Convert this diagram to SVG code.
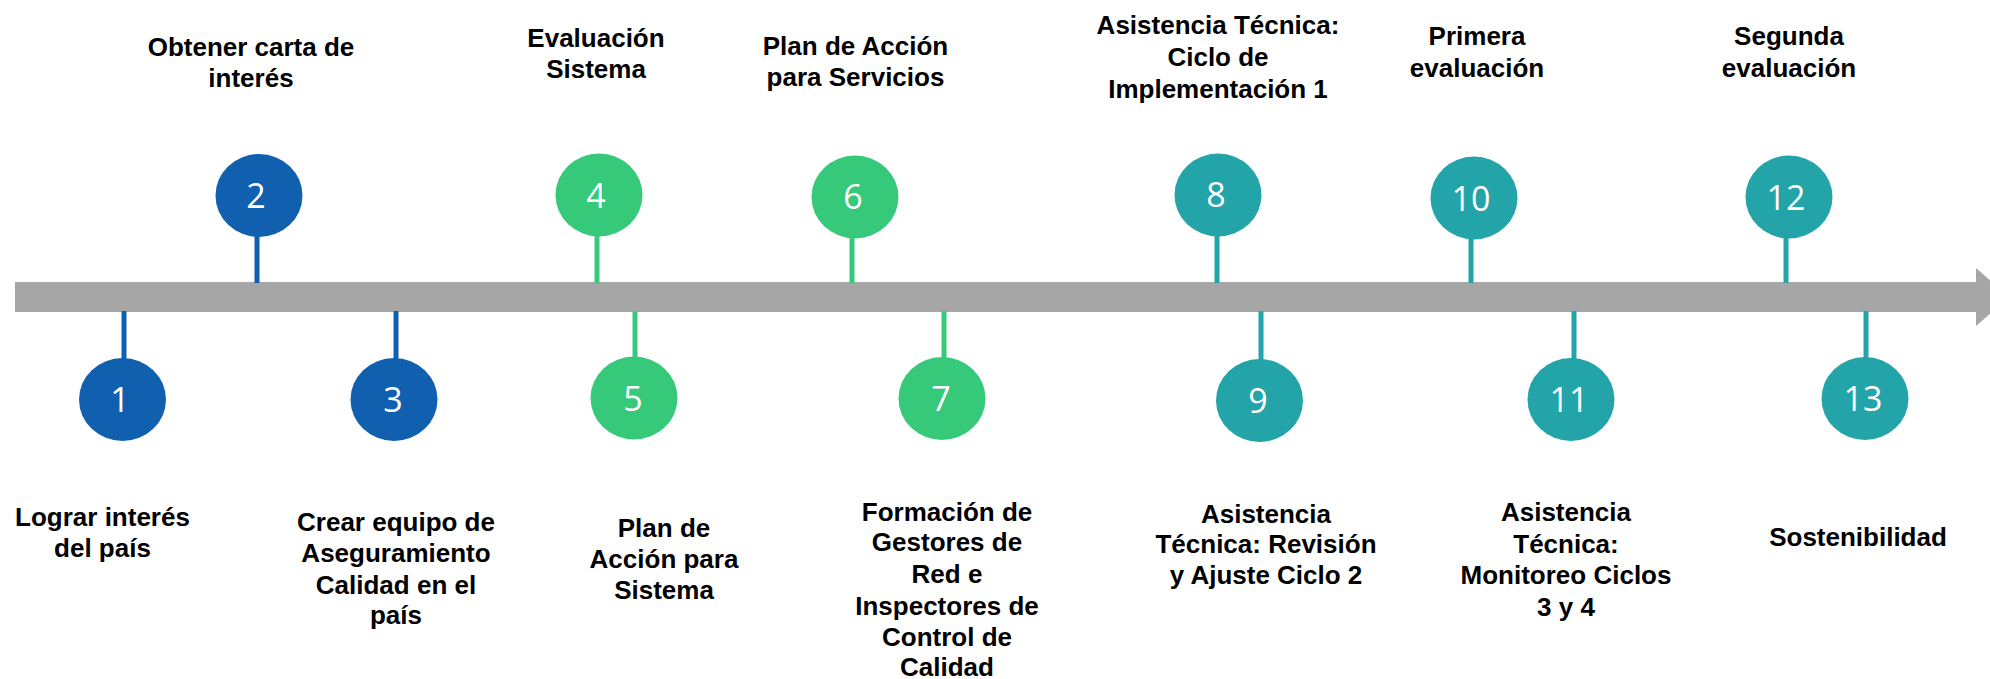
<svg xmlns="http://www.w3.org/2000/svg" width="1990" height="679" viewBox="0 0 1990 679">
<style>
.lbl{font-family:"Liberation Sans",Arial,sans-serif;font-weight:bold;font-size:26px;fill:#000;text-anchor:middle}
.num{font-family:"Open Sans","DejaVu Sans",sans-serif;font-size:34px;fill:#fff;text-anchor:middle}
.blue{fill:#1160AF}
.green{fill:#36C97A}
.teal{fill:#22A4A8}
.sb{stroke:#1160AF;stroke-width:5}
.sg{stroke:#36C97A;stroke-width:5}
.st{stroke:#22A4A8;stroke-width:5}
</style>
<rect width="1990" height="679" fill="#fff"/>
<g id="timeline">
<rect x="15" y="282" width="1962" height="30" fill="#A6A6A6"/>
<polygon points="1976,268 2009,297 1976,326" fill="#A6A6A6"/>
</g>
<g id="connectors">
<line class="sb" x1="257" y1="236" x2="257" y2="283"/>
<line class="sg" x1="597" y1="236" x2="597" y2="283"/>
<line class="sg" x1="852" y1="238" x2="852" y2="283"/>
<line class="st" x1="1217" y1="236" x2="1217" y2="283"/>
<line class="st" x1="1471" y1="239" x2="1471" y2="283"/>
<line class="st" x1="1786" y1="238" x2="1786" y2="283"/>
<line class="sb" x1="124" y1="311" x2="124" y2="359"/>
<line class="sb" x1="396" y1="311" x2="396" y2="359"/>
<line class="sg" x1="635" y1="311" x2="635" y2="357"/>
<line class="sg" x1="944" y1="311" x2="944" y2="358"/>
<line class="st" x1="1261" y1="311" x2="1261" y2="360"/>
<line class="st" x1="1574" y1="311" x2="1574" y2="359"/>
<line class="st" x1="1866" y1="311" x2="1866" y2="358"/>
</g>
<g id="n1"><ellipse class="blue" cx="122.5" cy="399.5" rx="43.5" ry="41.5"/><text class="num" x="120" y="412">1</text>
<text class="lbl" x="102.5" y="526">Lograr interés</text><text class="lbl" x="102.5" y="557">del país</text></g>
<g id="n2"><ellipse class="blue" cx="259" cy="195.5" rx="43.5" ry="41.5"/><text class="num" x="256" y="208">2</text>
<text class="lbl" x="251" y="56">Obtener carta de</text><text class="lbl" x="251" y="87">interés</text></g>
<g id="n3"><ellipse class="blue" cx="394" cy="399.5" rx="43.5" ry="41.5"/><text class="num" x="393" y="412">3</text>
<text class="lbl" x="396" y="531">Crear equipo de</text><text class="lbl" x="396" y="562">Aseguramiento</text><text class="lbl" x="396" y="594">Calidad en el</text><text class="lbl" x="396" y="624">país</text></g>
<g id="n4"><ellipse class="green" cx="599" cy="195" rx="43.5" ry="41.5"/><text class="num" x="596" y="208">4</text>
<text class="lbl" x="596" y="47">Evaluación</text><text class="lbl" x="596" y="78">Sistema</text></g>
<g id="n5"><ellipse class="green" cx="634" cy="398" rx="43.5" ry="41.5"/><text class="num" x="633" y="411">5</text>
<text class="lbl" x="664" y="537">Plan de</text><text class="lbl" x="664" y="568">Acción para</text><text class="lbl" x="664" y="599">Sistema</text></g>
<g id="n6"><ellipse class="green" cx="855" cy="197" rx="43.5" ry="41.5"/><text class="num" x="853" y="209">6</text>
<text class="lbl" x="855.5" y="55">Plan de Acción</text><text class="lbl" x="855.5" y="86">para Servicios</text></g>
<g id="n7"><ellipse class="green" cx="942" cy="398.5" rx="43.5" ry="41.5"/><text class="num" x="941" y="411">7</text>
<text class="lbl" x="947" y="521">Formación de</text><text class="lbl" x="947" y="551">Gestores de</text><text class="lbl" x="947" y="583">Red e</text><text class="lbl" x="947" y="615">Inspectores de</text><text class="lbl" x="947" y="646">Control de</text><text class="lbl" x="947" y="676">Calidad</text></g>
<g id="n8"><ellipse class="teal" cx="1218" cy="195" rx="43.5" ry="41.5"/><text class="num" x="1216" y="207">8</text>
<text class="lbl" x="1218" y="34">Asistencia Técnica:</text><text class="lbl" x="1218" y="66">Ciclo de</text><text class="lbl" x="1218" y="98">Implementación 1</text></g>
<g id="n9"><ellipse class="teal" cx="1259.5" cy="400.5" rx="43.5" ry="41.5"/><text class="num" x="1258" y="413">9</text>
<text class="lbl" x="1266" y="523">Asistencia</text><text class="lbl" x="1266" y="553">Técnica: Revisión</text><text class="lbl" x="1266" y="584">y Ajuste Ciclo 2</text></g>
<g id="n10"><ellipse class="teal" cx="1474" cy="198" rx="43.5" ry="41.5"/><text class="num" x="1471" y="211">10</text>
<text class="lbl" x="1477" y="45">Primera</text><text class="lbl" x="1477" y="77">evaluación</text></g>
<g id="n11"><ellipse class="teal" cx="1571" cy="399.5" rx="43.5" ry="41.5"/><text class="num" x="1569" y="412">11</text>
<text class="lbl" x="1566" y="521">Asistencia</text><text class="lbl" x="1566" y="553">Técnica:</text><text class="lbl" x="1566" y="584">Monitoreo Ciclos</text><text class="lbl" x="1566" y="616">3 y 4</text></g>
<g id="n12"><ellipse class="teal" cx="1789" cy="197" rx="43.5" ry="41.5"/><text class="num" x="1786" y="210">12</text>
<text class="lbl" x="1789" y="45">Segunda</text><text class="lbl" x="1789" y="77">evaluación</text></g>
<g id="n13"><ellipse class="teal" cx="1865" cy="398.5" rx="43.5" ry="41.5"/><text class="num" x="1863" y="411">13</text>
<text class="lbl" x="1858" y="546">Sostenibilidad</text></g>
</svg>
